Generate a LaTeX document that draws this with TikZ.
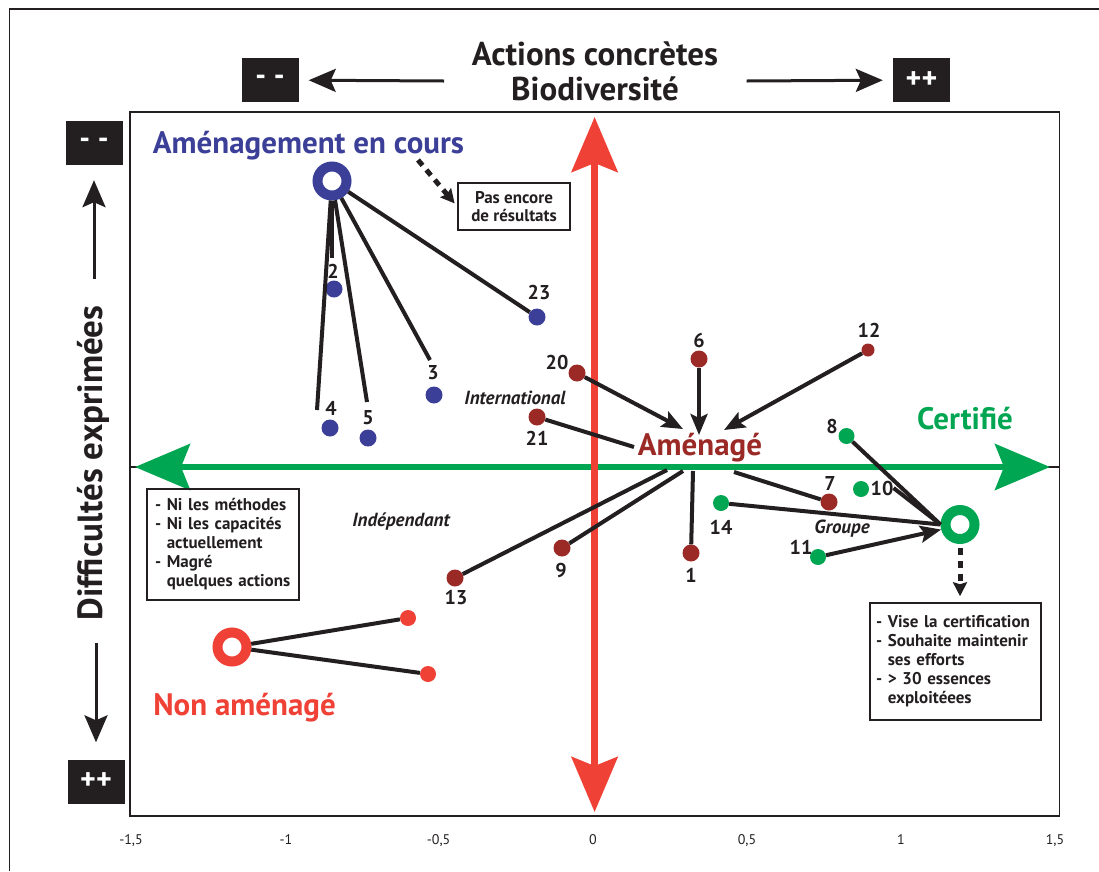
\documentclass[tikz,border=0pt]{standalone}
\usepackage{fontspec}
\setmainfont{PT Sans}
\usetikzlibrary{arrows.meta}
\definecolor{ink}{HTML}{231F20}
\definecolor{encours}{HTML}{3B3F97}
\definecolor{amenage}{HTML}{9B2A27}
\definecolor{nonam}{HTML}{EF4136}
\definecolor{certif}{HTML}{00A651}
\tikzset{
  dot/.style={circle,fill=#1,inner sep=0pt,minimum size=17pt},
  ring/.style={circle,draw=#1,fill=white,line width=10pt,inner sep=0pt,minimum size=29pt},
  num/.style={text=ink,inner sep=0pt,font=\fontsize{20}{20}\selectfont\bfseries},
  link/.style={draw=ink,line width=4pt},
  push/.style={link,-{Stealth[length=21pt,width=17pt,inset=4pt]}},
  pointer/.style={draw=ink,line width=3pt,-{Stealth[length=27pt,width=23pt,inset=5pt]}},
  hint/.style={draw=ink,line width=5pt,dash pattern=on 7pt off 6pt,-{Stealth[length=14pt,width=14pt,inset=2pt]}},
  signbox/.style={fill=ink,text=white,inner sep=0pt,minimum width=57pt,minimum height=44pt,font=\fontsize{30}{30}\selectfont\bfseries},
  notebox/.style={draw=ink,line width=1.5pt,align=left,inner ysep=0pt,text=ink,font=\fontsize{17}{19}\selectfont\bfseries},
  group/.style={text=ink,inner sep=0pt,font=\fontsize{19}{19}\selectfont\bfseries\itshape},
  status/.style={anchor=base,inner sep=0pt,font=\fontsize{31}{31}\selectfont\bfseries},
  tick/.style={text=ink,anchor=base,inner sep=0pt,font=\fontsize{14}{14}\selectfont},
  bigaxis/.style={line width=#1,{Stealth[length=55pt,width=46pt,inset=9pt]}-{Stealth[length=55pt,width=46pt,inset=9pt]}},
}
\begin{document}
\begin{tikzpicture}[x=1pt,y=-1pt]
  \useasboundingbox (0,0) rectangle (1099,871);
  \draw[ink,line width=1.5pt] (9.5,871) |- (1099,9);
  \draw[ink,line width=1.5pt] (130,112) rectangle (1059.5,816);

  \node[status,text=ink,font=\fontsize{33}{33}\selectfont\bfseries] (AC) at (595,65) {Actions concrètes};
  \node[status,text=ink,font=\fontsize{33}{33}\selectfont\bfseries] (BD) at (595,100) {Biodiversité};
  \node[rotate=90,anchor=base,inner sep=0pt,text=ink,font=\fontsize{35}{35}\selectfont\bfseries] (DE) at (102.5,463) {Difficultés exprimées};

  \node[signbox] (mmx) at (270,80) {- -};
  \node[signbox] (ppx) at (921.5,80) {++};
  \node[signbox] (mmy) at (94,143) {- -};
  \node[signbox] (ppy) at (96,781.5) {++};
  \coordinate (tx1) at (444,81);
  \coordinate (tx2) at (746.5,81);
  \coordinate (ty1) at (94,279);
  \coordinate (ty2) at (96,643);
  \draw[pointer,shorten >=10pt] (tx1) -- (mmx);
  \draw[pointer,shorten >=10pt] (tx2) -- (ppx);
  \draw[pointer,shorten >=15pt] (ty1) -- (mmy);
  \draw[pointer,shorten >=17pt] (ty2) -- (ppy);

  \node[tick] (t1) at (131,844) {-1,5};
  \node[tick] (t2) at (286,844) {-1};
  \node[tick] (t3) at (438.6,844) {-0,5};
  \node[tick] (t4) at (593,844) {0};
  \node[tick] (t5) at (747,844) {0,5};
  \node[tick] (t6) at (901,844) {1};
  \node[tick] (t7) at (1055,844) {1,5};

  \draw[ink,line width=1.2pt] (130,467) -- (1059.5,467);
  \coordinate (gl) at (135,467);
  \coordinate (gr) at (1050,467);
  \coordinate (rt) at (594.6,117);
  \coordinate (rb) at (594.6,812);
  \draw[certif,bigaxis=6pt] (gl) -- (gr);
  \draw[nonam,bigaxis=7pt] (rt) -- (rb);

  \node[status,text=encours] (AEC) at (308.5,153) {Aménagement en cours};
  \node[status,text=amenage] (AM) at (700,455) {Aménagé};
  \node[status,text=certif] (CE) at (965,429) {Certifié};
  \node[status,text=nonam] (NA) at (244.6,715) {Non aménagé};

  \node[group] (INT) at (515,398) {International};
  \node[group] (IND) at (401,522) {Indépendant};
  \node[group] (GRP) at (842,529) {Groupe};

  \node[notebox,align=center,inner xsep=0pt,minimum width=112pt,minimum height=47pt,font=\fontsize{17}{18}\selectfont\bfseries] (PE) at (514,206.5) {Pas encore\\de résultats};
  \node[notebox,inner xsep=8pt,text width=136pt,minimum height=111pt] (NM) at (223,544.5) {- Ni les méthodes\\- Ni les capacités\\\phantom{- }actuellement\\- Magré\\\phantom{- }quelques actions};
  \node[notebox,inner xsep=6pt,text width=159pt,minimum height=117pt] (VC) at (955.5,661.5) {- Vise la certification\\- Souhaite maintenir\\\phantom{- }ses efforts\\- > 30 essences\\\phantom{- }exploitéees};

  \node[ring=encours] (RB) at (332,181) {};
  \node[ring=certif] (RG) at (960,524.5) {};
  \node[ring=nonam] (RR) at (232,647) {};

  \node[dot=encours] (p2) at (334,289) {};
  \node[dot=encours] (p4) at (330,428) {};
  \node[dot=encours] (p5) at (368,438) {};
  \node[dot=encours] (p3) at (434,395) {};
  \node[dot=encours] (p23) at (537,317) {};
  \node[num] (n2) at (333,271) {2};
  \node[num] (n4) at (331,408) {4};
  \node[num] (n5) at (368,418) {5};
  \node[num] (n3) at (433,373) {3};
  \node[num] (n23) at (539,292) {23};

  \node[dot=amenage] (p20) at (577,373) {};
  \node[dot=amenage] (p21) at (537,417) {};
  \node[dot=amenage] (p6) at (699,359) {};
  \node[dot=amenage,minimum size=13pt] (p12) at (868,350) {};
  \node[dot=amenage] (p7) at (829,502) {};
  \node[dot=amenage] (p1) at (691,553) {};
  \node[dot=amenage] (p9) at (562,548) {};
  \node[dot=amenage] (p13) at (455,578) {};
  \node[num] (n20) at (557,362) {20};
  \node[num] (n21) at (537,438) {21};
  \node[num] (n6) at (699,340) {6};
  \node[num] (n12) at (869,330) {12};
  \node[num] (n7) at (830,483) {7};
  \node[num] (n1) at (691,575) {1};
  \node[num] (n9) at (561,570) {9};
  \node[num] (n13) at (456,598) {13};

  \node[dot=certif,minimum size=16pt] (p8) at (846.5,436) {};
  \node[dot=certif,minimum size=16pt] (p10) at (861,489) {};
  \node[dot=certif,minimum size=16pt] (p14) at (721,503) {};
  \node[dot=certif,minimum size=16pt] (p11) at (818,557) {};
  \node[num] (n8) at (832,426) {8};
  \node[num] (n10) at (882,488) {10};
  \node[num] (n14) at (721,527) {14};
  \node[num] (n11) at (801,547) {11};

  \node[dot=nonam,minimum size=16pt] (q1) at (408,618) {};
  \node[dot=nonam,minimum size=16pt] (q2) at (428,674) {};

  \coordinate (e2) at (332,258);
  \coordinate (e4) at (317,410);
  \coordinate (e5) at (367,402);
  \coordinate (e3) at (430,360);
  \draw[link] (RB) -- (e4);
  \draw[link] (RB) -- (e2);
  \draw[link] (RB) -- (e5);
  \draw[link] (RB) -- (e3);
  \draw[link] (RB) -- (p23);

  \coordinate (a20) at (683,429);
  \coordinate (a6) at (699,435);
  \coordinate (a12) at (724,430);
  \coordinate (a21) at (634,447);
  \coordinate (b13) at (667,470);
  \coordinate (b9) at (683,471);
  \coordinate (b1) at (693,471);
  \coordinate (b7) at (734,472);
  \draw[push] (p20) -- (a20);
  \draw[push] (p6) -- (a6);
  \draw[push] (p12) -- (a12);
  \draw[link] (p21) -- (a21);
  \draw[link] (b13) -- (p13);
  \draw[link] (b9) -- (p9);
  \draw[link] (b1) -- (p1);
  \draw[link] (b7) -- (p7);

  \draw[link] (p8) -- (RG.west);
  \draw[link] (n10.east) -- (RG.west);
  \draw[link] (p14) -- (RG.west);
  \draw[push] (p11) -- (RG.195);

  \draw[link] (RR) -- (q1);
  \draw[link] (RR) -- (q2);

  \coordinate (h1) at (418,160);
  \draw[hint,shorten >=4pt] (h1) -- (PE.west);
  \draw[hint,shorten <=4pt,shorten >=6pt] (RG.south) -- (RG.south |- VC.north);
\end{tikzpicture}
\end{document}
